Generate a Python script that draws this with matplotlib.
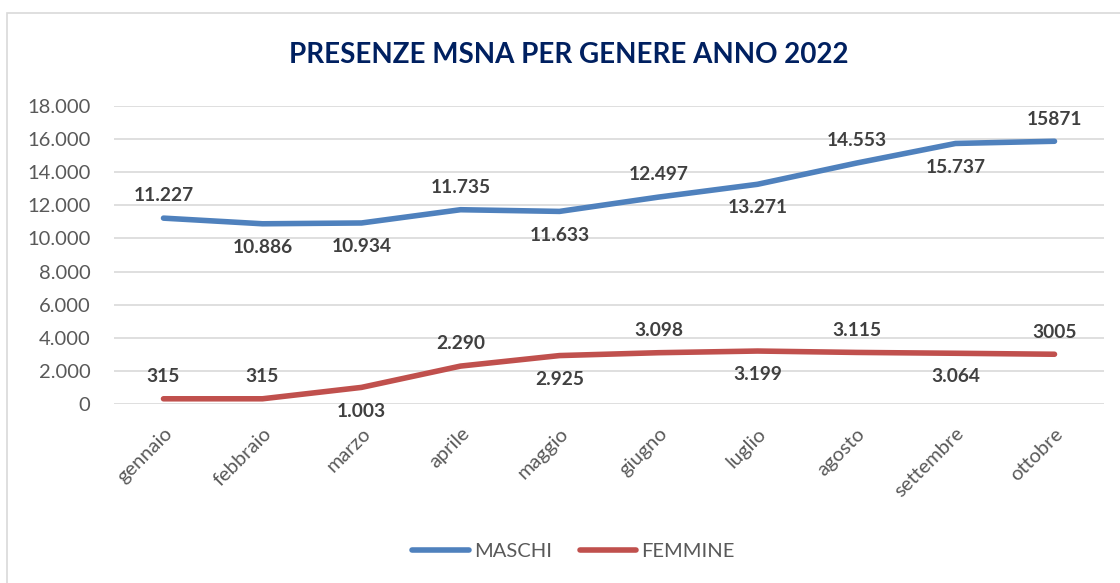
import matplotlib
matplotlib.use("Agg")
import matplotlib.pyplot as plt
from matplotlib.patches import Rectangle

months = ["gennaio", "febbraio", "marzo", "aprile", "maggio", "giugno",
          "luglio", "agosto", "settembre", "ottobre"]
maschi = [11227, 10886, 10934, 11735, 11633, 12497, 13271, 14553, 15737, 15871]
femmine = [315, 315, 1003, 2290, 2925, 3098, 3199, 3115, 3064, 3005]
maschi_labels = ["11.227", "10.886", "10.934", "11.735", "11.633", "12.497",
                 "13.271", "14.553", "15.737", "15871"]
femmine_labels = ["315", "315", "1.003", "2.290", "2.925", "3.098",
                  "3.199", "3.115", "3.064", "3005"]
maschi_pos = ["a", "b", "b", "a", "b", "a", "b", "a", "b", "a"]
femmine_pos = ["a", "a", "b", "a", "b", "a", "b", "a", "b", "a"]
yticks = [0, 2000, 4000, 6000, 8000, 10000, 12000, 14000, 16000, 18000]
ytick_labels = ["0", "2.000", "4.000", "6.000", "8.000", "10.000", "12.000",
                "14.000", "16.000", "18.000"]

plt.rcParams['font.family'] = ['Lato', 'DejaVu Sans']

fig = plt.figure(figsize=(11.2, 5.83), dpi=100)
fig.patches.append(Rectangle((7/1120, -0.1), 1.2, 1 - 13/583 + 0.1,
                             transform=fig.transFigure, fill=False,
                             edgecolor="#d9d9d9", linewidth=1.2))
ax = fig.add_axes([114/1120, 1 - 404/583, 990/1120, (404 - 106)/583])

x = list(range(len(months)))
blue = "#4f81bd"
red = "#c0504d"
ax.plot(x, maschi, color=blue, linewidth=4, solid_capstyle="round",
        solid_joinstyle="round", label="MASCHI", zorder=3)
ax.plot(x, femmine, color=red, linewidth=4, solid_capstyle="round",
        solid_joinstyle="round", label="FEMMINE", zorder=3)

ax.set_xlim(-0.5, len(months) - 0.5)
ax.set_ylim(0, 18000)
ax.set_yticks(yticks)
ax.set_yticklabels(ytick_labels, fontsize=14.5, color="#595959")
ax.set_xticks(x)
ax.set_xticklabels(months, rotation=45, ha="right", rotation_mode="anchor",
                   fontsize=14.5, color="#595959")
ax.tick_params(axis="x", length=0, pad=15)
ax.tick_params(axis="y", length=0, pad=17)
ax.grid(axis="y", color="#d9d9d9", linewidth=1.2)
ax.set_axisbelow(True)
for s in ax.spines.values():
    s.set_visible(False)

for series, labels, pos in ((maschi, maschi_labels, maschi_pos),
                            (femmine, femmine_labels, femmine_pos)):
    for i, (v, lab, p) in enumerate(zip(series, labels, pos)):
        dy = 16 if p == "a" else -17
        ax.annotate(lab, (i, v), xytext=(0, dy), textcoords="offset points",
                    ha="center", va="center", fontsize=13.8, fontweight="bold",
                    color="#404040")

fig.text(0.508, 1 - 55/583, "PRESENZE MSNA PER GENERE ANNO 2022",
         ha="center", va="center", fontsize=20, fontweight="bold",
         color="#002060")

leg = fig.legend(loc="center", bbox_to_anchor=(0.512, 1 - 551/583), ncol=2,
                 frameon=False, fontsize=14.5, handlelength=2.8,
                 columnspacing=1.4, handletextpad=0.25)
for t in leg.get_texts():
    t.set_color("#595959")

fig.savefig("out.png", dpi=100)
